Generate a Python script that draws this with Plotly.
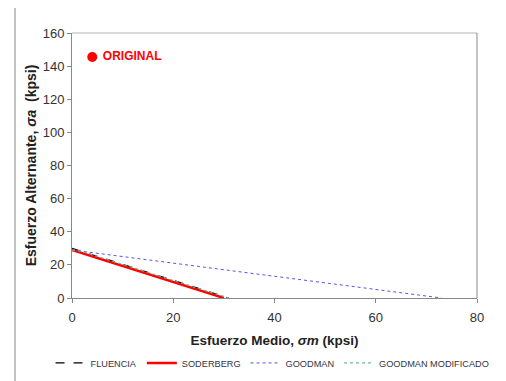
import plotly.graph_objects as go

# Data (kpsi)
fluencia_x = [0, 31]
fluencia_y = [30, 0]
soderberg_x = [0, 30]
soderberg_y = [29, 0]
goodman_x = [0, 73]
goodman_y = [29, 0]
goodman_mod_x = [0, 1.7, 31]
goodman_mod_y = [29, 28.3, 0]
original_x = [4]
original_y = [145.5]
original_label = ["ORIGINAL"]

font = "Liberation Sans, Arial, sans-serif"

fig = go.Figure()
fig.add_trace(go.Scatter(x=fluencia_x, y=fluencia_y, mode="lines", name="FLUENCIA",
                         line=dict(color="black", width=1.2, dash="dash")))
fig.add_trace(go.Scatter(x=soderberg_x, y=soderberg_y, mode="lines", name="SODERBERG",
                         line=dict(color="#ff0000", width=2.5)))
fig.add_trace(go.Scatter(x=goodman_x, y=goodman_y, mode="lines", name="GOODMAN",
                         line=dict(color="#5555ee", width=1, dash="dot")))
fig.add_trace(go.Scatter(x=goodman_mod_x, y=goodman_mod_y, mode="lines", name="GOODMAN MODIFICADO",
                         line=dict(color="#66bb99", width=1.2, dash="dot")))
fig.add_trace(go.Scatter(x=original_x, y=original_y, mode="markers+text", text=original_label,
                         texttemplate=" %{text}",
                         textposition="middle right", showlegend=False,
                         marker=dict(color="#ff0000", size=10),
                         textfont=dict(color="#ff0000", size=12, family=font, weight="bold")))

axis_common = dict(showline=True, linecolor="#888888", linewidth=1, ticks="outside",
                   ticklen=4, tickcolor="#888888", showgrid=False, zeroline=False,
                   automargin=True,
                   tickfont=dict(size=13, color="#333333", family=font))

# page body has an 8px default margin; offset the figure to compensate
fig.update_layout(
    width=498, height=373,
    margin=dict(l=64, r=29, t=25, b=83, autoexpand=False),
    plot_bgcolor="white", paper_bgcolor="white",
    font=dict(family=font, size=11, color="#222222"),
    xaxis=dict(range=[0, 80], dtick=20, ticklabelstandoff=3,
               title=dict(text="<b>Esfuerzo Medio, <i>σm</i> (kpsi)</b>", font=dict(size=13.5), standoff=11),
               **axis_common),
    yaxis=dict(range=[0, 160], dtick=20,
               title=dict(text="<b>Esfuerzo Alternante, <i>σa</i>  (kpsi)</b>", font=dict(size=14), standoff=2),
               **axis_common),
    legend=dict(orientation="h", xref="paper", yref="paper",
                x=-0.053, y=-0.245, xanchor="left", yanchor="middle",
                font=dict(size=9.2, color="#333344", family=font), bgcolor="rgba(0,0,0,0)",
                itemwidth=30),
    shapes=[
        dict(type="line", xref="paper", yref="paper", x0=0, x1=1, y0=1, y1=1,
             line=dict(color="#cccccc", width=1.5)),
        dict(type="line", xref="paper", yref="paper", x0=1, x1=1, y0=0, y1=1,
             line=dict(color="#888888", width=1)),
        dict(type="line", xref="paper", yref="paper", x0=-0.1407, x1=-0.1407, y0=-0.32, y1=1.13,
             line=dict(color="#888888", width=1)),
    ],
)

fig.write_html("out.html")
